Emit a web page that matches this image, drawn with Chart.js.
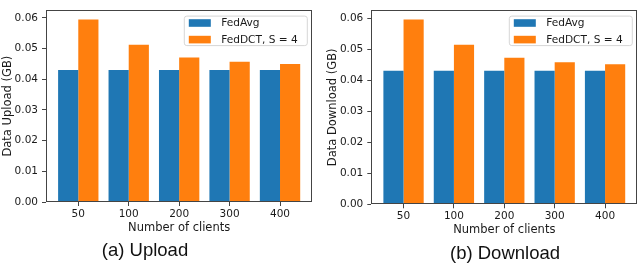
<!DOCTYPE html>
<html>
<head>
<meta charset="utf-8">
<script src="https://cdn.jsdelivr.net/npm/chart.js@4.4.1/dist/chart.umd.min.js"></script>
<style>
  html, body { margin: 0; padding: 0; background: #fff; }
  #wrap { position: relative; width: 640px; height: 264px; overflow: hidden; }
  canvas { position: absolute; top: 0; }
  .caption {
    position: absolute;
    font-family: 'Liberation Sans', Arial, sans-serif;
    font-size: 18.5px;
    color: #111;
    transform: translate(-50%, -50%);
    white-space: nowrap;
  }
</style>
</head>
<body>
<div id="wrap">
  <canvas id="uploadChart" width="320" height="240" style="left:0"></canvas>
  <canvas id="downloadChart" width="320" height="242" style="left:320px"></canvas>
  <div class="caption" style="left:145px; top:250px">(a) Upload</div>
  <div class="caption" style="left:505px; top:253px">(b) Download</div>
</div>
<script>
// data
const CLIENTS = ['50', '100', '200', '300', '400'];
const FEDAVG_UPLOAD = [0.0430, 0.0430, 0.0430, 0.0430, 0.0430];
const FEDDCT_UPLOAD = [0.0595, 0.0513, 0.0471, 0.0457, 0.0450];
const FEDAVG_DOWNLOAD = [0.0430, 0.0430, 0.0430, 0.0430, 0.0430];
const FEDDCT_DOWNLOAD = [0.0595, 0.0514, 0.0472, 0.0458, 0.0451];
const Y_TICKS = [0, 0.01, 0.02, 0.03, 0.04, 0.05, 0.06];
const SERIES = ['FedAvg', 'FedDCT, S = 4'];

const COLORS = ['#1f77b4', '#ff7f0e'];
const TEXT = '#1a1a1a';
const SPINE = '#444';
const FONT = "'DejaVu Sans', sans-serif";

// box around the plot area (matplotlib spines)
const framePlugin = {
    id: 'frame',
    afterDatasetsDraw(chart) {
        const { ctx, chartArea: a } = chart;
        ctx.save();
        ctx.strokeStyle = SPINE;
        ctx.lineWidth = 1;
        const l = Math.round(a.left) + 0.5, t = Math.round(a.top) + 0.5;
        const r = Math.round(a.right) - 0.5, b = Math.round(a.bottom) - 0.5;
        ctx.strokeRect(l, t, r - l, b - t);
        ctx.restore();
    }
};

// legend inside the axes, upper right
const innerLegend = {
    id: 'innerLegend',
    afterDraw(chart) {
        const { ctx, chartArea: a } = chart;
        const w = 123, h = 29.5;
        const x = a.right - 5.5 - w, y = a.top + 5.3;
        ctx.save();
        ctx.beginPath();
        ctx.roundRect(x + 0.5, y + 0.5, w, h, 2.5);
        ctx.fillStyle = 'rgba(255,255,255,0.8)';
        ctx.fill();
        ctx.strokeStyle = '#d6d6d6';
        ctx.lineWidth = 1;
        ctx.stroke();
        ctx.font = '10.6px ' + FONT;
        ctx.textBaseline = 'middle';
        chart.data.datasets.forEach((ds, i) => {
            const cy = y + 7.4 + i * 16.6;
            ctx.fillStyle = ds.backgroundColor;
            ctx.fillRect(x + 5, cy - 3.8, 22, 7.6);
            ctx.fillStyle = TEXT;
            ctx.fillText(ds.label, x + 37.4, cy + 0.5);
        });
        ctx.restore();
    }
};

function makeChart(canvasId, avg, dct, opts) {
    const canvas = document.getElementById(canvasId);
    return new Chart(canvas.getContext('2d'), {
        type: 'bar',
        data: {
            datasets: [
                { label: SERIES[0], data: avg.map((v, i) => ({ x: i, y: v })), backgroundColor: COLORS[0] },
                { label: SERIES[1], data: dct.map((v, i) => ({ x: i, y: v })), backgroundColor: COLORS[1] }
            ]
        },
        options: {
            responsive: false,
            animation: false,
            devicePixelRatio: 1,
            categoryPercentage: 0.8,
            barPercentage: 1.0,
            layout: { padding: { left: 0, top: opts.top, right: opts.right, bottom: 0 } },
            plugins: {
                legend: { display: false },
                tooltip: { enabled: false }
            },
            scales: {
                x: {
                    type: 'linear',
                    min: -0.64,
                    max: 4.64,
                    offset: false,
                    afterBuildTicks: s => { s.ticks = CLIENTS.map((_, i) => ({ value: i })); },
                    afterFit: s => { s.height = opts.xHeight; },
                    grid: { offset: false, drawOnChartArea: false, drawTicks: true, tickLength: 4, color: SPINE },
                    border: { display: false },
                    ticks: {
                        color: TEXT, font: { family: FONT, size: 10.5 }, padding: 2,
                        maxRotation: 0, autoSkip: false,
                        callback: v => CLIENTS[v]
                    },
                    title: {
                        display: true, text: 'Number of clients', color: TEXT,
                        font: { family: FONT, size: 11.5 }, padding: { top: 0, bottom: 5 }
                    }
                },
                y: {
                    min: 0,
                    max: 0.0625,
                    afterBuildTicks: s => { s.ticks = Y_TICKS.map(v => ({ value: v })); },
                    afterFit: s => { s.width = opts.yWidth; },
                    grid: { drawOnChartArea: false, drawTicks: true, tickLength: 4, color: SPINE },
                    border: { display: false },
                    ticks: {
                        color: TEXT, font: { family: FONT, size: 10.5 }, padding: 4,
                        callback: v => v.toFixed(2)
                    },
                    title: {
                        display: true, text: opts.yTitle, color: TEXT,
                        font: { family: FONT, size: 11.5 }, padding: { top: opts.yTitlePad, bottom: 0 }
                    }
                }
            }
        },
        plugins: [framePlugin, innerLegend]
    });
}

makeChart('uploadChart', FEDAVG_UPLOAD, FEDDCT_UPLOAD, {
    top: 3, right: 7.7, xHeight: 38, yWidth: 46, yTitle: 'Data Upload (GB)', yTitlePad: 1
});
makeChart('downloadChart', FEDAVG_DOWNLOAD, FEDDCT_DOWNLOAD, {
    top: 4, right: 2.7, xHeight: 37.7, yWidth: 51.3, yTitle: 'Data Download (GB)', yTitlePad: 6.5
});
</script>
</body>
</html>
